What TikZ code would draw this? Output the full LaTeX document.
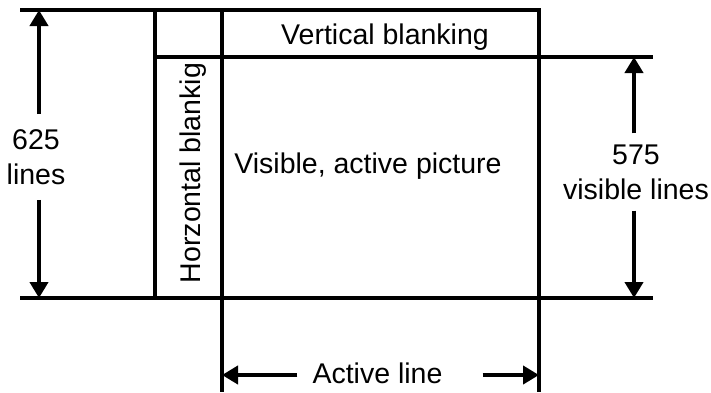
\documentclass[tikz,border=0pt]{standalone}
\usepackage{fontspec}
\setmainfont{Liberation Sans}
\usetikzlibrary{arrows.meta}

\begin{document}
\begin{tikzpicture}[
  x=1pt, y=-1pt,
  font=\fontsize{28.5}{35}\selectfont,
  edge/.style={line width=3.3pt, line join=miter},
  dim/.style={line width=4.5pt, -{Triangle[length=16pt, width=18pt]}},
  dimtext/.style={align=center, inner xsep=0pt}
]
\useasboundingbox (0,0) rectangle (711,392);

\coordinate (topL) at (20,10);
\coordinate (topR) at (539,10);
\coordinate (hbT) at (155,10);
\coordinate (hbB) at (155,298);
\coordinate (apT) at (222,10);
\coordinate (apB) at (222,392);
\coordinate (arB) at (539,392);
\coordinate (midL) at (155,57);
\coordinate (midR) at (653,57);
\coordinate (botL) at (20,298);
\coordinate (botR) at (653,298);

\coordinate (fullT) at (39,10);
\coordinate (fullB) at (39,298);
\coordinate (visT) at (634,57);
\coordinate (visB) at (634,298);
\coordinate (actL) at (222,375);
\coordinate (actR) at (539,375);

\draw[edge] (topL) -- (topR) -- (arB);
\draw[edge] (hbT) -- (hbB);
\draw[edge] (apT) -- (apB);
\draw[edge] (midL) -- (midR);
\draw[edge] (botL) -- (botR);

\node[anchor=base] (vb) at (385,44) {Vertical blanking};
\node[anchor=base] (vis) at (368,173) {Visible, active picture};
\node[anchor=base, rotate=90] (hb) at (200,173) {Horzontal blankig};

\node[dimtext, inner ysep=15pt] (total) at (36,157) {625\\lines};
\draw[dim] (total.north -| fullT) -- (fullT);
\draw[dim] (total.south -| fullB) -- (fullB);

\node[dimtext, inner ysep=11pt] (visl) at (636,172) {575\\visible lines};
\draw[dim] (visl.north -| visT) -- (visT);
\draw[dim] (visl.south -| visB) -- (visB);

\node[anchor=base, inner xsep=15pt] (act) at (377.5,383) {Active line};
\draw[dim] (act.west |- actL) -- (actL);
\draw[dim, shorten <=25pt] (act.east |- actR) -- (actR);

\end{tikzpicture}
\end{document}
